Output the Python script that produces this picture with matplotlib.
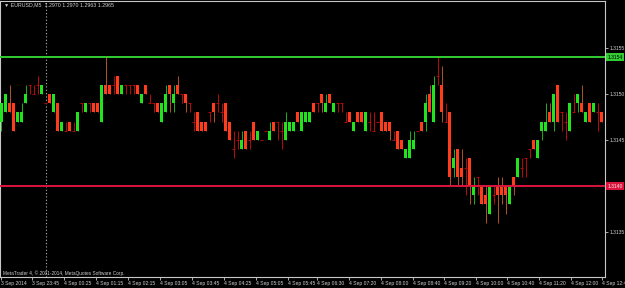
import matplotlib
matplotlib.use("Agg")
import matplotlib.pyplot as plt
import matplotlib.transforms as mtransforms
import numpy as np

# EURUSD M5 candles, values in pips above 1.3140
BASE = 1.3140
PIP = 0.0001

opens = [7, 8, 9, 9, 7, 7, 9, 11, 10, 11, 10, 9, 10, 8, 9, 6, 6, 7, 6, 6,
         9, 8, 9, 9, 9, 7, 11, 11, 11, 12, 10, 11, 11, 11, 11, 9, 11, 9, 9, 9,
         7, 8, 11, 9, 11, 10, 10, 9, 7, 8, 7, 7, 8, 9, 9, 8, 9, 7, 4, 5,
         4, 6, 5, 7, 5, 5, 6, 5, 7, 7, 6, 5, 6, 6, 8, 6, 7, 7, 9, 9,
         10, 8, 10, 8, 9, 9, 7, 8, 6, 8, 8, 6, 7, 6, 7, 8, 7, 7, 5, 6,
         5, 3, 3, 4, 6, 7, 7, 10, 7, 12, 11, 7, 8, 2, 4, 2, 2, 3, -1, 1,
         0, -1, -3, -1, 0, 0, 0, -2, 1, 1, 2, 3, 4, 5, 3, 6, 6, 8, 7, 11,
         8, 7, 6, 8, 9, 9, 7, 9, 8, 8, 8]
closes = [9, 10, 8, 6, 8, 8, 10, 11, 10, 11, 11, 9, 9, 10, 6, 7, 6, 6, 6, 8,
          9, 9, 9, 8, 8, 11, 10, 10, 11, 10, 11, 11, 11, 11, 10, 10, 10, 9, 9, 8,
          9, 10, 10, 10, 10, 10, 9, 9, 7, 6, 6, 6, 8, 8, 9, 8, 6, 5, 4, 5,
          5, 4, 5, 5, 6, 5, 6, 6, 6, 7, 6, 7, 7, 7, 7, 8, 8, 8, 8, 9,
          9, 9, 9, 9, 9, 9, 7, 7, 7, 7, 7, 8, 7, 6, 7, 6, 6, 6, 5, 4,
          4, 4, 5, 5, 6, 6, 9, 8, 11, 12, 8, 7, 1, 3, 1, 1, 2, 0, 0, 1,
          -2, -2, 0, -1, -1, -1, -1, 0, 0, 3, 2, 3, 4, 4, 5, 7, 7, 7, 10, 7,
          8, 7, 9, 8, 10, 8, 8, 7, 9, 8, 7]
highs = [9, 10, 11, 9, 8, 9, 11, 11, 11, 12, 11, 9, 10, 10, 9, 7, 7, 7, 7, 8,
         9, 9, 9, 9, 9, 11, 14, 11, 12, 12, 11, 11, 11, 11, 11, 10, 11, 10, 9, 9,
         9, 11, 11, 11, 12, 10, 10, 9, 8, 8, 7, 7, 8, 9, 10, 9, 9, 7, 6, 6,
         6, 6, 6, 7, 6, 5, 6, 7, 7, 7, 7, 8, 7, 7, 8, 8, 8, 8, 9, 9,
         10, 10, 10, 9, 9, 9, 8, 8, 7, 8, 8, 8, 8, 8, 7, 8, 7, 7, 6, 6,
         5, 4, 6, 6, 6, 7, 10, 11, 12, 14, 13, 9, 8, 4, 4, 4, 3, 3, 1, 1,
         0, 0, 0, 0, 1, 1, 0, 0, 1, 3, 3, 3, 4, 5, 5, 7, 9, 9, 10, 11,
         8, 8, 9, 10, 10, 11, 8, 9, 9, 9, 8]
lows = [6, 8, 8, 6, 7, 7, 9, 10, 10, 10, 10, 9, 9, 8, 6, 6, 6, 6, 6, 6,
        8, 8, 8, 8, 8, 7, 10, 10, 10, 10, 10, 10, 10, 10, 10, 9, 10, 9, 8, 8,
        7, 8, 8, 8, 10, 9, 8, 8, 6, 6, 6, 6, 7, 7, 8, 7, 6, 5, 3, 4,
        4, 4, 4, 5, 5, 5, 6, 5, 6, 5, 4, 5, 6, 6, 7, 6, 7, 7, 8, 8,
        8, 8, 9, 8, 8, 8, 7, 7, 6, 7, 7, 6, 6, 6, 7, 6, 6, 5, 5, 4,
        4, 3, 3, 4, 6, 6, 6, 8, 7, 11, 7, 7, 0, 1, 0, 0, -1, -2, -2, -1,
        -2, -4, -3, -2, -4, -2, -3, -2, -1, 1, 1, 1, 3, 4, 3, 5, 6, 7, 6, 7,
        6, 5, 6, 8, 8, 8, 7, 7, 8, 6, 7]

price_ticks = [1.3135, 1.3145, 1.3150, 1.3155]
resistance = 1.3154
support = 1.3140
separator_bar = 11

time_labels = ["3 Sep 2014", "3 Sep 23:45", "4 Sep 00:25", "4 Sep 01:15", "4 Sep 02:15",
               "4 Sep 03:05", "4 Sep 03:45", "4 Sep 04:25", "4 Sep 05:05", "4 Sep 05:45",
               "4 Sep 06:30", "4 Sep 07:20", "4 Sep 08:00", "4 Sep 08:40", "4 Sep 09:20",
               "4 Sep 10:00", "4 Sep 10:40", "4 Sep 11:20", "4 Sep 12:00", "4 Sep 12:40"]
label_px = [1, 32, 64, 96, 128, 160, 192, 224, 256, 288,
            317, 349, 381, 413, 444, 476, 507, 539, 571, 602]

title = "\u25bc EURUSD,M5  1.2970 1.2970 1.2963 1.2965"
footer = "MetaTrader 4, \u00a9 2001-2014, MetaQuotes Software Corp."

BG = "black"
GREEN = "#22e41e"
GREEN_WICK = "#1fa81f"
RED = "#ff3c1c"
RED_WICK = "#a8522c"
DOJI = "#b00a0a"
TXT = "#d0d0d0"
FRAME = "#c8c8c8"

o = BASE + np.array(opens) * PIP
c = BASE + np.array(closes) * PIP
h = BASE + np.array(highs) * PIP
l = BASE + np.array(lows) * PIP
x = np.arange(len(o))

W, H = 625, 288
fig = plt.figure(figsize=(W / 100, H / 100), dpi=100, facecolor=BG)
ax = fig.add_axes([0, (H - 277) / H, 605 / W, 276 / H], facecolor=BG)

up = c > o
dn = c < o
flat = c == o

ax.vlines(x[up], l[up], h[up], color=GREEN_WICK, lw=0.75, zorder=2)
ax.bar(x[up], (c - o)[up], bottom=o[up], width=0.75, color=GREEN, lw=0, zorder=3)
ax.vlines(x[dn], l[dn], h[dn], color=RED_WICK, lw=0.75, zorder=2)
ax.bar(x[dn], (o - c)[dn], bottom=c[dn], width=0.75, color=RED, lw=0, zorder=3)
ax.vlines(x[flat], l[flat], h[flat], color=DOJI, lw=0.75, zorder=2)
ax.hlines(o[flat], x[flat] - 0.4, x[flat] + 0.4, color=DOJI, lw=0.75, zorder=3)

ax.axhline(resistance, color="#32cd32", lw=1.4, zorder=4)
ax.axhline(support, color="#dc143c", lw=1.4, zorder=4)
ax.axvline(separator_bar, color="#b4b4b4", lw=0.8, ls=(0, (1, 2)), zorder=1)

# pixel layout: bar k centred at 4k + 1.5 px
ax.set_xlim(-1.5 / 4, (605 - 1.5) / 4)
ax.set_ylim(BASE - (277 - 186) / 9.2 * PIP, BASE + (186 - 1) / 9.2 * PIP)

for side in ["left", "right", "bottom", "top"]:
    ax.spines[side].set_color(FRAME)
    ax.spines[side].set_linewidth(0.8)

ax.yaxis.tick_right()
ax.set_yticks(price_ticks)
ax.set_yticklabels([f"{p:.4f}" for p in price_ticks])
ax.tick_params(axis="y", colors=FRAME, labelcolor=TXT, labelsize=3.6, length=2, width=0.6, pad=1)

ax.set_xticks([(p - 1.5) / 4 for p in label_px])
ax.set_xticklabels(time_labels)
ax.tick_params(axis="x", colors=FRAME, labelcolor=TXT, labelsize=3.6, length=2, width=0.6, pad=1)
for t in ax.get_xticklabels():
    t.set_horizontalalignment("left")
    t.set_family("Liberation Sans")
for t in ax.get_yticklabels():
    t.set_family("Liberation Sans")

trans = mtransforms.blended_transform_factory(ax.transAxes, ax.transData)
ax.text(1.004, resistance, f"{resistance:.4f}", transform=trans, fontsize=3.6, color="black",
        family="Liberation Sans", va="center", ha="left", clip_on=False, zorder=6,
        bbox=dict(boxstyle="square,pad=0.25", fc="#32cd32", ec="none"))
ax.text(1.004, support, f"{support:.4f}", transform=trans, fontsize=3.6, color="#f0f0f0",
        family="Liberation Sans", va="center", ha="left", clip_on=False, zorder=6,
        bbox=dict(boxstyle="square,pad=0.25", fc="#dc143c", ec="none"))

fig.text(4 / W, 1 - 5 / H, title, fontsize=3.8, color=TXT, family=["Liberation Sans", "DejaVu Sans"],
         va="center", ha="left")
fig.text(3 / W, 1 - 273 / H, footer, fontsize=3.4, color=TXT, family="Liberation Sans",
         va="center", ha="left")

fig.savefig("out.png", dpi=100, facecolor=BG)
